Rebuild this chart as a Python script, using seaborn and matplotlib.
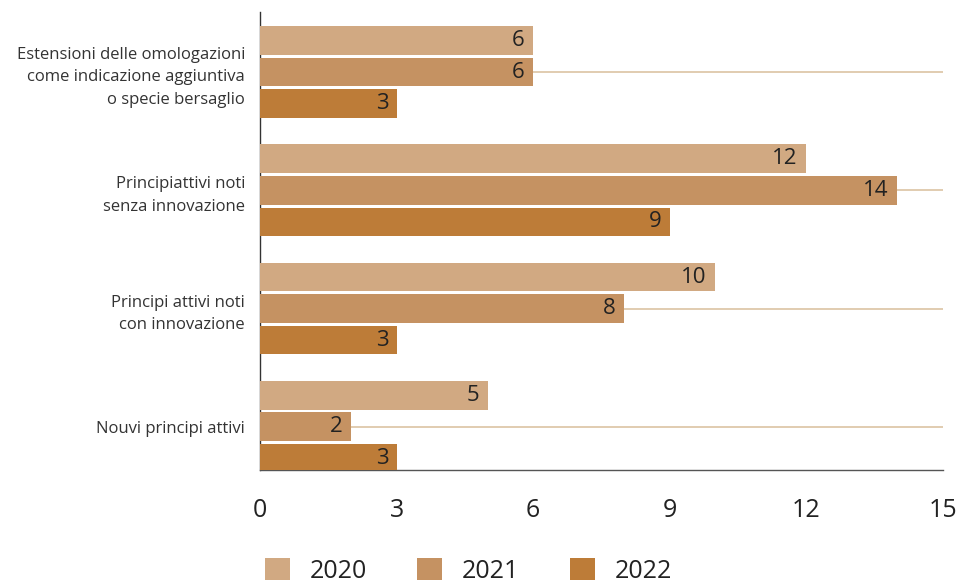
import matplotlib
matplotlib.use('agg')
import matplotlib.pyplot as plt
import seaborn as sns
import pandas as pd
from matplotlib.patches import Patch

# Data
categories = [
    'Estensioni delle omologazioni\ncome indicazione aggiuntiva\no specie bersaglio',
    'Principiattivi noti\nsenza innovazione',
    'Principi attivi noti\ncon innovazione',
    'Nouvi principi attivi',
]
years = ['2020', '2021', '2022']
values_2020 = [6, 12, 10, 5]
values_2021 = [6, 14, 8, 2]
values_2022 = [3, 9, 3, 3]
x_ticks = [0, 3, 6, 9, 12, 15]

colors = ['#d1a982', '#c59262', '#bd7c38']

df = pd.DataFrame({
    'categoria': categories * 3,
    'anno': [y for y in years for _ in categories],
    'valore': values_2020 + values_2021 + values_2022,
})

sns.set_theme(style='white')
plt.rcParams['font.family'] = ['Open Sans', 'DejaVu Sans']

fig = plt.figure(figsize=(9.6, 5.85), dpi=100)
ax = fig.add_axes([0.271, 0.197, 0.711, 0.782])

sns.barplot(data=df, y='categoria', x='valore', hue='anno', orient='h',
            palette=colors, width=0.8, gap=0.09, saturation=1, linewidth=0,
            legend=False, ax=ax, zorder=3)

# value labels inside the end of each bar
for container in ax.containers:
    for patch in container:
        w = patch.get_width()
        yc = patch.get_y() + patch.get_height() / 2
        ax.annotate(f'{w:g}', (w, yc), xytext=(-6, 0), textcoords='offset points',
                    ha='right', va='center', fontsize=16, color='#222222', zorder=4)

ax.set_xlim(0, 15)
ax.set_ylim(3.363, -0.506)
ax.set_xticks(x_ticks)
ax.set_xticklabels([str(t) for t in x_ticks], fontsize=18, color='#222222')
ax.tick_params(axis='x', direction='in', length=9, width=1, color='#555555', pad=20)
ax.tick_params(axis='y', length=0, labelsize=12, labelcolor='#333333', pad=11)
for lbl in ax.get_yticklabels():
    lbl.set_linespacing(1.55)
ax.set_xlabel('')
ax.set_ylabel('')

ax.yaxis.grid(True, color='#dcc3a3', linewidth=1.2, zorder=0)
ax.xaxis.grid(False)
ax.set_axisbelow(True)

for side in ['top', 'right']:
    ax.spines[side].set_visible(False)
ax.spines['left'].set_color('#333333')
ax.spines['bottom'].set_color('#555555')
ax.spines['left'].set_linewidth(1)
ax.spines['bottom'].set_linewidth(1)

handles = [Patch(facecolor=c, edgecolor='none') for c in colors]
fig.legend(handles, years, loc='center left', bbox_to_anchor=(0.263, 0.024),
           ncol=3, frameon=False, fontsize=18, handlelength=1.0, handleheight=1.0,
           handletextpad=0.8, columnspacing=2.0, borderpad=0, labelcolor='#222222')

fig.savefig('out.png', dpi=100)
